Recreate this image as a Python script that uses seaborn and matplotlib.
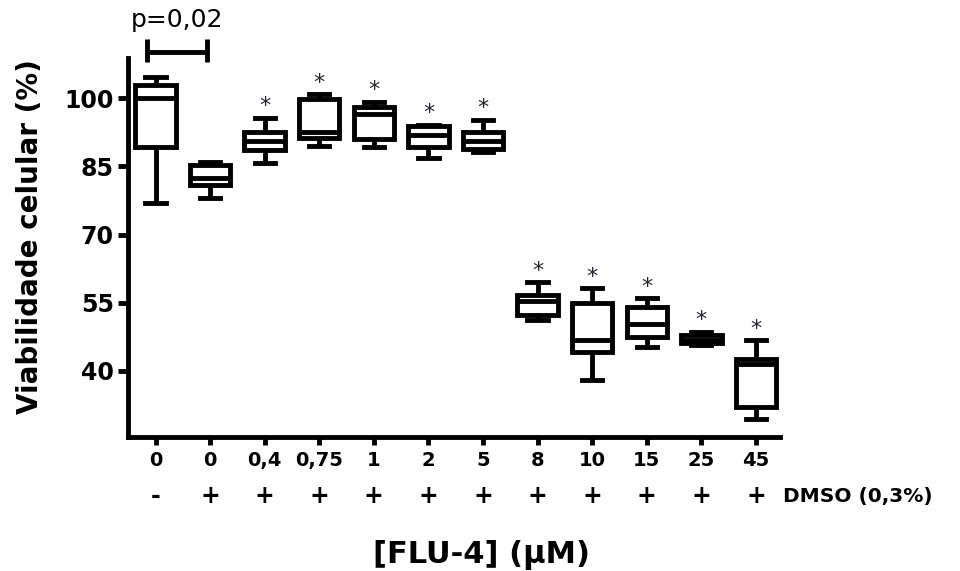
import numpy as np
import pandas as pd
import matplotlib
matplotlib.use("Agg")
import matplotlib.pyplot as plt
import seaborn as sns

# ---- data: min, Q1, median, Q3, max per group ----
concentracoes = ["0", "0", "0,4", "0,75", "1", "2", "5", "8", "10", "15", "25", "45"]
dmso = ["-", "+", "+", "+", "+", "+", "+", "+", "+", "+", "+", "+"]
g00 = [77.0, 89.3, 100.1, 102.9, 104.7]
g01 = [78.0, 81.0, 82.5, 85.4, 86.0]
g02 = [85.8, 88.6, 90.5, 92.5, 95.7]
g03 = [89.5, 91.2, 92.6, 99.8, 100.9]
g04 = [89.3, 91.1, 96.6, 98.0, 99.2]
g05 = [86.8, 89.3, 91.9, 93.8, 94.2]
g06 = [88.2, 88.8, 90.5, 92.5, 95.3]
g07 = [51.3, 52.4, 55.4, 56.8, 59.5]
g08 = [38.0, 44.2, 46.9, 55.0, 58.2]
g09 = [45.2, 47.4, 50.4, 54.0, 56.0]
g10 = [45.6, 46.2, 46.9, 47.8, 48.6]
g11 = [29.4, 32.1, 41.6, 42.6, 46.8]
valores = [g00, g01, g02, g03, g04, g05, g06, g07, g08, g09, g10, g11]
significativo = [False, False, True, True, True, True, True, True, True, True, True, True]
y_ticks = [40, 55, 70, 85, 100]
p_texto = "p=0,02"
p_grupos = (0, 1)

grupos = [f"g{i:02d}" for i in range(len(valores))]
df = pd.DataFrame({
    "grupo": np.repeat(grupos, [len(v) for v in valores]),
    "valor": np.concatenate(valores),
})

fig = plt.figure(figsize=(9.6, 5.71), dpi=100)
ax = fig.add_axes([0.133, 0.235, 0.680, 0.663])

sns.boxplot(data=df, x="grupo", y="valor", order=grupos, ax=ax,
            color="white", linecolor="black", saturation=1,
            linewidth=3.5, width=0.74, whis=(0, 100), showfliers=False)

ax.set_ylim(25.5, 108.8)
ax.set_xlim(-0.51, 11.45)
ax.set_yticks(y_ticks)
ax.set_yticklabels([str(t) for t in y_ticks], fontsize=17, fontweight="bold",
                   family="DejaVu Sans")
ax.set_xticks(range(len(grupos)))
ax.set_xticklabels(concentracoes, fontsize=14, fontweight="bold",
                   family=["Liberation Sans Narrow", "DejaVu Sans"])
ax.set_xlabel("")
ax.set_ylabel("Viabilidade celular (%)", fontsize=20, fontweight="bold")
ax.yaxis.set_label_coords(-0.128, 0.53)

for s in ["top", "right"]:
    ax.spines[s].set_visible(False)
for s in ["left", "bottom"]:
    ax.spines[s].set_linewidth(3.5)
ax.tick_params(axis="y", length=7, width=3.5, pad=3)
ax.tick_params(axis="x", length=6, width=3.5, pad=4)

# significance stars
for i, (v, sig) in enumerate(zip(valores, significativo)):
    if sig:
        ax.annotate("*", (i, max(v)), xytext=(0, 1), textcoords="offset points",
                    ha="center", va="bottom", fontsize=16, color="#222233")

# DMSO row
tr = ax.get_xaxis_transform()
for i, s in enumerate(dmso):
    ax.text(i, -0.156, s, transform=tr, ha="center", va="center",
            fontsize=17, fontweight="bold")
fig.text(0.816, 0.131, "DMSO (0,3%)", ha="left", va="center",
         fontsize=14.5, fontweight="bold")

# x title
fig.text(0.502, 0.028, "[FLU-4] (\u03bcM)", ha="center", va="center",
         fontsize=22, fontweight="bold")

# p-value bracket
xa, xb = p_grupos[0] - 0.15, p_grupos[1] - 0.06
ax.plot([xa, xb], [110.1, 110.1], color="black", lw=3.5, clip_on=False,
        solid_capstyle="butt")
for xx in (xa, xb):
    ax.plot([xx, xx], [107.9, 113.0], color="black", lw=3.5, clip_on=False,
            solid_capstyle="butt")
ax.text((xa + xb) / 2, 1.10, p_texto, transform=tr, ha="center", va="center",
        fontsize=18)

fig.savefig("out.png", dpi=100)
